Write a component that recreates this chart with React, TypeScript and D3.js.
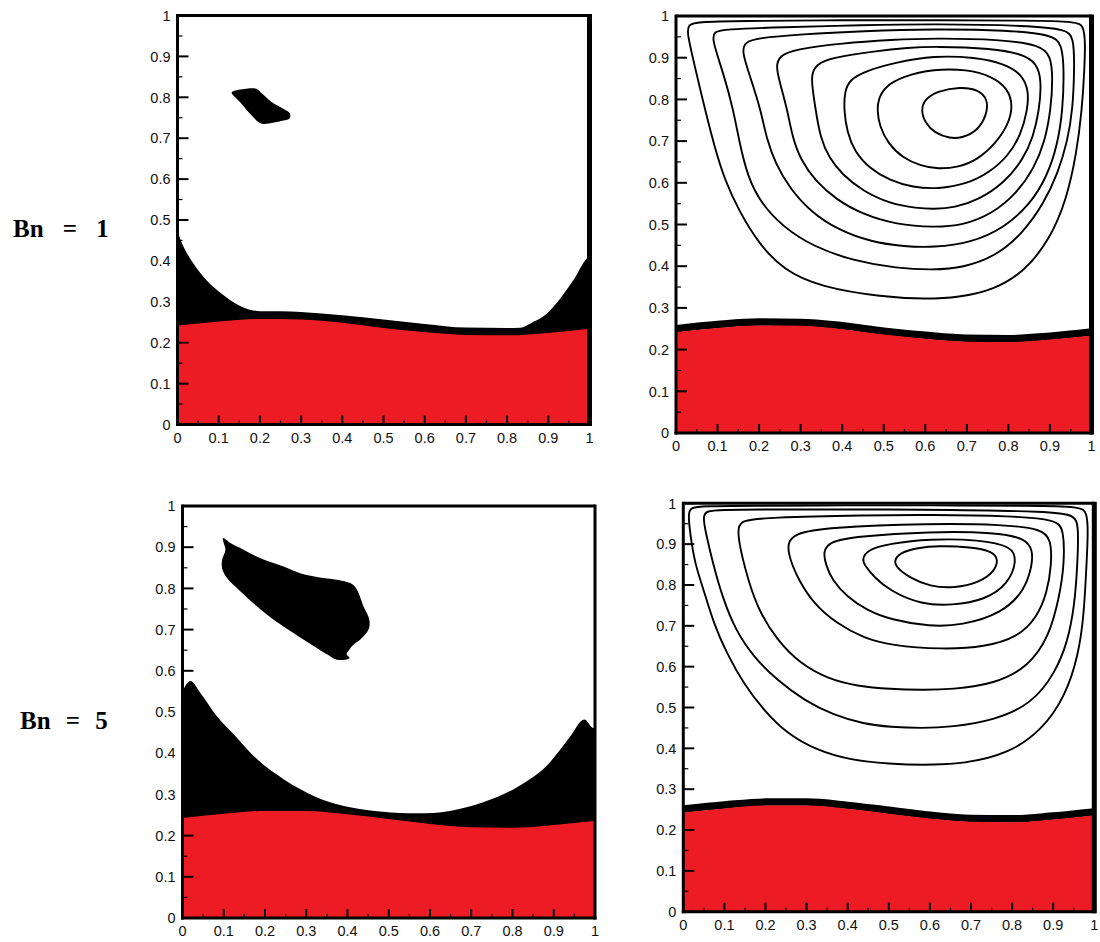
import React from "react";
import * as d3 from "d3";

type Pt = [number, number];

// ---- shared axis values ----
const TICKS_MAJOR = d3.range(0, 11).map((i) => i / 10);
const TICKS_MINOR = d3.range(0, 10).map((i) => i / 10 + 0.05);

// ---- fluid/fluid interface height (lower, red fluid) sampled at x = 0, 0.1, ..., 1 ----
const INTERFACE_X = [0, 0.1, 0.2, 0.3, 0.4, 0.5, 0.6, 0.7, 0.8, 0.9, 1.0];
const INTERFACE_BN1 = [0.242, 0.252, 0.258, 0.257, 0.249, 0.236, 0.226, 0.219, 0.218, 0.224, 0.234];
const INTERFACE_BN5 = [0.243, 0.253, 0.260, 0.260, 0.252, 0.240, 0.228, 0.220, 0.219, 0.226, 0.236];

// ---- unyielded (plug) zone above the interface: upper boundary y(x) ----
const YIELD_TOP_BN1: Pt[] = [
  [0, 0.471], [0.015, 0.434], [0.039, 0.393], [0.071, 0.352], [0.108, 0.319], [0.152, 0.29],
  [0.201, 0.277], [0.25, 0.277], [0.3, 0.275], [0.4, 0.267], [0.5, 0.257], [0.6, 0.246],
  [0.7, 0.237], [0.8, 0.236], [0.832, 0.2365], [0.864, 0.251], [0.896, 0.271], [0.929, 0.308],
  [0.961, 0.353], [0.994, 0.406], [1.0, 0.41],
];
const YIELD_TOP_BN5: Pt[] = [
  [0, 0.55], [0.019, 0.575], [0.043, 0.547], [0.083, 0.49], [0.124, 0.446], [0.164, 0.402],
  [0.205, 0.365], [0.245, 0.337], [0.285, 0.313], [0.325, 0.293], [0.358, 0.281],
  [0.406, 0.269], [0.486, 0.258], [0.567, 0.254], [0.608, 0.255], [0.648, 0.26],
  [0.729, 0.281], [0.81, 0.317], [0.89, 0.377], [0.938, 0.438], [0.974, 0.482],
  [0.994, 0.462], [1.0, 0.46],
];

// ---- rigid plug in the core of the vortex ----
const CORE_PLUG_BN1: Pt[] = [
  [0.132, 0.813], [0.146, 0.818], [0.191, 0.821], [0.205, 0.809], [0.229, 0.788],
  [0.257, 0.772], [0.273, 0.76], [0.272, 0.748], [0.257, 0.743], [0.209, 0.735],
  [0.197, 0.739], [0.176, 0.76], [0.152, 0.788], [0.132, 0.809],
];
const CORE_PLUG_BN5: Pt[] = [
  [0.098, 0.922], [0.106, 0.918], [0.116, 0.91], [0.148, 0.894], [0.189, 0.873],
  [0.245, 0.853], [0.285, 0.837], [0.342, 0.825], [0.374, 0.821], [0.41, 0.811],
  [0.423, 0.797], [0.439, 0.756], [0.453, 0.724], [0.451, 0.7], [0.431, 0.676],
  [0.415, 0.664], [0.402, 0.648], [0.398, 0.64], [0.405, 0.631], [0.394, 0.627],
  [0.374, 0.627], [0.35, 0.64], [0.318, 0.66], [0.269, 0.692], [0.221, 0.724],
  [0.181, 0.756], [0.14, 0.793], [0.108, 0.825], [0.096, 0.849], [0.096, 0.869],
  [0.104, 0.894], [0.1, 0.91],
];

// ---- streamlines (closed contours, outermost first) ----
const STREAM_BN1: Pt[][] = [
  [[0.026, 0.962], [0.03, 0.979], [0.05, 0.986], [0.15, 0.988], [0.4, 0.99], [0.62, 0.99], [0.85, 0.989], [0.965, 0.987], [0.981, 0.975], [0.985, 0.94], [0.983, 0.87], [0.977, 0.775], [0.964, 0.67], [0.94, 0.56], [0.9, 0.465], [0.84, 0.388], [0.765, 0.343], [0.68, 0.325], [0.6, 0.321], [0.498, 0.326], [0.347, 0.35], [0.258, 0.391], [0.198, 0.456], [0.152, 0.532], [0.118, 0.605], [0.093, 0.685], [0.07, 0.775], [0.045, 0.88]],
  [[0.086, 0.945], [0.092, 0.962], [0.115, 0.968], [0.25, 0.973], [0.45, 0.978], [0.62, 0.981], [0.85, 0.977], [0.94, 0.968], [0.957, 0.948], [0.959, 0.88], [0.955, 0.775], [0.942, 0.7], [0.92, 0.625], [0.885, 0.55], [0.835, 0.48], [0.772, 0.425], [0.69, 0.396], [0.62, 0.391], [0.53, 0.395], [0.43, 0.412], [0.33, 0.447], [0.258, 0.494], [0.205, 0.55], [0.172, 0.615], [0.152, 0.7], [0.138, 0.775], [0.115, 0.86]],
  [[0.158, 0.915], [0.166, 0.937], [0.195, 0.947], [0.3, 0.956], [0.45, 0.964], [0.62, 0.969], [0.8, 0.966], [0.905, 0.955], [0.929, 0.933], [0.934, 0.87], [0.931, 0.775], [0.918, 0.69], [0.893, 0.615], [0.852, 0.548], [0.79, 0.492], [0.71, 0.456], [0.62, 0.445], [0.55, 0.447], [0.47, 0.458], [0.39, 0.487], [0.325, 0.53], [0.275, 0.585], [0.24, 0.645], [0.218, 0.705], [0.204, 0.775], [0.18, 0.85]],
  [[0.24, 0.88], [0.25, 0.905], [0.285, 0.92], [0.4, 0.935], [0.52, 0.943], [0.62, 0.947], [0.78, 0.944], [0.877, 0.93], [0.902, 0.905], [0.907, 0.85], [0.902, 0.775], [0.888, 0.7], [0.862, 0.635], [0.82, 0.575], [0.76, 0.525], [0.69, 0.498], [0.62, 0.493], [0.53, 0.5], [0.45, 0.524], [0.385, 0.56], [0.335, 0.605], [0.3, 0.655], [0.28, 0.71], [0.268, 0.775], [0.25, 0.84]],
  [[0.326, 0.86], [0.338, 0.885], [0.375, 0.9], [0.48, 0.916], [0.56, 0.924], [0.62, 0.927], [0.76, 0.923], [0.847, 0.906], [0.874, 0.876], [0.879, 0.83], [0.874, 0.775], [0.86, 0.71], [0.835, 0.655], [0.79, 0.6], [0.73, 0.56], [0.67, 0.54], [0.62, 0.537], [0.58, 0.539], [0.515, 0.55], [0.45, 0.58], [0.4, 0.62], [0.368, 0.66], [0.347, 0.71], [0.336, 0.775], [0.328, 0.83]],
  [[0.406, 0.82], [0.418, 0.847], [0.455, 0.868], [0.53, 0.889], [0.62, 0.905], [0.72, 0.901], [0.79, 0.886], [0.833, 0.86], [0.849, 0.82], [0.846, 0.775], [0.83, 0.715], [0.8, 0.665], [0.755, 0.625], [0.7, 0.597], [0.63, 0.585], [0.57, 0.589], [0.515, 0.605], [0.465, 0.635], [0.43, 0.675], [0.412, 0.72], [0.404, 0.775]],
  [[0.487, 0.8], [0.502, 0.83], [0.545, 0.855], [0.62, 0.873], [0.7, 0.872], [0.76, 0.856], [0.799, 0.826], [0.811, 0.785], [0.8, 0.74], [0.77, 0.695], [0.725, 0.655], [0.68, 0.637], [0.63, 0.633], [0.59, 0.64], [0.545, 0.66], [0.51, 0.695], [0.49, 0.735], [0.484, 0.775]],
  [[0.589, 0.775], [0.6, 0.802], [0.63, 0.82], [0.684, 0.83], [0.727, 0.824], [0.751, 0.8], [0.748, 0.763], [0.726, 0.725], [0.69, 0.708], [0.659, 0.706], [0.622, 0.72], [0.6, 0.743]],
];

const STREAM_BN5: Pt[][] = [
  [[0.012, 0.975], [0.018, 0.99], [0.05, 0.993], [0.15, 0.994], [0.4, 0.995], [0.6, 0.995], [0.85, 0.994], [0.967, 0.992], [0.982, 0.978], [0.985, 0.93], [0.981, 0.849], [0.975, 0.73], [0.962, 0.63], [0.929, 0.526], [0.872, 0.444], [0.791, 0.387], [0.685, 0.362], [0.58, 0.359], [0.504, 0.362], [0.406, 0.371], [0.325, 0.395], [0.252, 0.436], [0.196, 0.493], [0.147, 0.558], [0.106, 0.632], [0.074, 0.705], [0.05, 0.787], [0.028, 0.852], [0.016, 0.93]],
  [[0.048, 0.968], [0.055, 0.981], [0.09, 0.984], [0.2, 0.985], [0.6, 0.985], [0.9, 0.98], [0.952, 0.971], [0.962, 0.945], [0.959, 0.849], [0.952, 0.75], [0.935, 0.66], [0.905, 0.585], [0.848, 0.509], [0.758, 0.469], [0.653, 0.452], [0.58, 0.449], [0.504, 0.452], [0.439, 0.46], [0.366, 0.481], [0.293, 0.518], [0.228, 0.567], [0.171, 0.624], [0.127, 0.689], [0.095, 0.771], [0.073, 0.849], [0.054, 0.93]],
  [[0.133, 0.94], [0.142, 0.958], [0.2, 0.965], [0.45, 0.971], [0.6, 0.972], [0.8, 0.969], [0.907, 0.96], [0.926, 0.937], [0.927, 0.849], [0.915, 0.771], [0.89, 0.673], [0.839, 0.599], [0.758, 0.558], [0.653, 0.544], [0.58, 0.543], [0.504, 0.545], [0.423, 0.552], [0.35, 0.571], [0.285, 0.607], [0.228, 0.665], [0.183, 0.738], [0.158, 0.812], [0.143, 0.87], [0.135, 0.91]],
  [[0.254, 0.9], [0.268, 0.926], [0.35, 0.941], [0.6, 0.951], [0.78, 0.948], [0.872, 0.937], [0.895, 0.912], [0.896, 0.849], [0.885, 0.78], [0.86, 0.72], [0.815, 0.673], [0.734, 0.648], [0.63, 0.642], [0.504, 0.652], [0.439, 0.67], [0.374, 0.705], [0.317, 0.754], [0.281, 0.812], [0.265, 0.849], [0.257, 0.875]],
  [[0.34, 0.88], [0.354, 0.906], [0.42, 0.919], [0.6, 0.931], [0.76, 0.929], [0.833, 0.914], [0.85, 0.885], [0.849, 0.849], [0.831, 0.787], [0.775, 0.73], [0.677, 0.701], [0.6, 0.698], [0.504, 0.715], [0.447, 0.738], [0.398, 0.771], [0.362, 0.812], [0.347, 0.849]],
  [[0.435, 0.862], [0.447, 0.886], [0.5, 0.901], [0.6, 0.913], [0.72, 0.911], [0.8, 0.895], [0.812, 0.86], [0.791, 0.803], [0.734, 0.763], [0.653, 0.75], [0.58, 0.752], [0.504, 0.785], [0.463, 0.82], [0.441, 0.849]],
  [[0.513, 0.86], [0.527, 0.879], [0.57, 0.891], [0.62, 0.896], [0.7, 0.893], [0.752, 0.883], [0.767, 0.862], [0.757, 0.833], [0.72, 0.806], [0.66, 0.792], [0.6, 0.796], [0.55, 0.818], [0.518, 0.843]],
];

const ROW_LABELS = ["Bn = 1", "Bn = 5"];

const RED = "#ed1c24";
const TICK_FONT = "'Liberation Sans', Arial, sans-serif";
const LABEL_FONT = "'Liberation Serif', 'Times New Roman', serif";

type PanelSpec = {
  id: string;
  xr: [number, number];
  yr: [number, number];
  rightW: number;
  interfaceY: number[];
  yieldTop?: Pt[];
  plug?: Pt[];
  stream?: Pt[][];
};

const PANELS: PanelSpec[] = [
  { id: "a", xr: [177.5, 589.5], yr: [424.5, 15.5], rightW: 5, interfaceY: INTERFACE_BN1, yieldTop: YIELD_TOP_BN1, plug: CORE_PLUG_BN1 },
  { id: "b", xr: [676, 1091.5], yr: [433, 16], rightW: 5, interfaceY: INTERFACE_BN1, stream: STREAM_BN1 },
  { id: "c", xr: [182.5, 595], yr: [918, 506], rightW: 3, interfaceY: INTERFACE_BN5, yieldTop: YIELD_TOP_BN5, plug: CORE_PLUG_BN5 },
  { id: "d", xr: [683.3, 1094.3], yr: [911.7, 503.3], rightW: 5, interfaceY: INTERFACE_BN5, stream: STREAM_BN5 },
];

const fmt = (v: number) => (v === 0 ? "0" : v === 1 ? "1" : v.toFixed(1));

function Panel({ p }: { p: PanelSpec }) {
  const sx = d3.scaleLinear().domain([0, 1]).range(p.xr);
  const sy = d3.scaleLinear().domain([0, 1]).range(p.yr);
  const [x0, x1] = p.xr;
  const [yb, yt] = p.yr;

  const ifacePts: Pt[] = INTERFACE_X.map((x, i) => [x, p.interfaceY[i]]);
  const redArea = d3
    .area<Pt>()
    .x((d) => sx(d[0]))
    .y0(sy(0))
    .y1((d) => sy(d[1]))
    .curve(d3.curveMonotoneX)(ifacePts) as string;
  const ifaceLine = d3
    .line<Pt>()
    .x((d) => sx(d[0]))
    .y((d) => sy(d[1]))
    .curve(d3.curveMonotoneX)(ifacePts) as string;

  const plugShape = d3
    .line<Pt>()
    .x((d) => sx(d[0]))
    .y((d) => sy(d[1]))
    .curve(d3.curveCatmullRomClosed.alpha(0.5));
  const streamShape = d3
    .line<Pt>()
    .x((d) => sx(d[0]))
    .y((d) => sy(d[1]))
    .curve(d3.curveBasisClosed);

  const yieldArea = p.yieldTop
    ? (d3
        .area<Pt>()
        .x((d) => sx(d[0]))
        .y0(sy(0.1))
        .y1((d) => sy(d[1]))
        .curve(d3.curveMonotoneX)(p.yieldTop) as string)
    : null;

  const clipId = `clip-${p.id}`;

  return (
    <g>
      <defs>
        <clipPath id={clipId}>
          <rect x={x0} y={yt} width={x1 - x0} height={yb - yt} />
        </clipPath>
      </defs>
      <g clipPath={`url(#${clipId})`}>
        <rect x={x0} y={yt} width={x1 - x0} height={yb - yt} fill="#fff" />
        {yieldArea && <path d={yieldArea} fill="#000" />}
        {p.plug && <path d={plugShape(p.plug) as string} fill="#000" />}
        {p.stream && (
          <path d={ifaceLine} fill="none" stroke="#000" strokeWidth={7.5} transform="translate(0,-3.4)" />
        )}
        <path d={redArea} fill={RED} />
        {p.stream &&
          p.stream.map((c, i) => (
            <path key={i} d={streamShape(c) as string} fill="none" stroke="#000" strokeWidth={1.9} />
          ))}
      </g>
      {/* frame */}
      <line x1={x0} x2={x1} y1={yt} y2={yt} stroke="#000" strokeWidth={3} />
      <line x1={x1} x2={x1} y1={yt - 1.5} y2={yb + 1.5} stroke="#000" strokeWidth={p.rightW} />
      <line x1={x0} x2={x0} y1={yt - 1.5} y2={yb + 1.5} stroke="#000" strokeWidth={3} />
      <line x1={x0 - 1.5} x2={x1 + 1.5} y1={yb} y2={yb} stroke="#000" strokeWidth={3} />
      {/* ticks */}
      {TICKS_MAJOR.map((t) => (
        <g key={`M${t}`}>
          <line x1={x0} x2={x0 + 11} y1={sy(t)} y2={sy(t)} stroke="#000" strokeWidth={2} />
          <line x1={sx(t)} x2={sx(t)} y1={yb} y2={yb - 9} stroke="#000" strokeWidth={2} />
          <text x={x0 - 7} y={sy(t)} dy="0.36em" textAnchor="end" fontFamily={TICK_FONT} fontSize={14.5} fill="#111">
            {fmt(t)}
          </text>
          <text x={sx(t)} y={yb + 18} textAnchor="middle" fontFamily={TICK_FONT} fontSize={14.5} fill="#111">
            {fmt(t)}
          </text>
        </g>
      ))}
      {TICKS_MINOR.map((t) => (
        <g key={`m${t}`}>
          <line x1={x0} x2={x0 + 5} y1={sy(t)} y2={sy(t)} stroke="#000" strokeWidth={1.2} />
          <line x1={sx(t)} x2={sx(t)} y1={yb} y2={yb - 4} stroke="#000" strokeWidth={1.2} />
        </g>
      ))}
    </g>
  );
}

export default function App() {
  return (
    <svg
      width={1100}
      height={942}
      viewBox="0 0 1100 942"
      style={{ position: "absolute", left: 0, top: 0, background: "#fff" }}
    >
      <rect x={0} y={0} width={1100} height={942} fill="#fff" />
      {PANELS.map((p) => (
        <Panel key={p.id} p={p} />
      ))}
      <text x={13} y={237} fontFamily={LABEL_FONT} fontWeight="bold" fontSize={25} wordSpacing={13}>
        {ROW_LABELS[0]}
      </text>
      <text x={20} y={729} fontFamily={LABEL_FONT} fontWeight="bold" fontSize={25} wordSpacing={9}>
        {ROW_LABELS[1]}
      </text>
    </svg>
  );
}
